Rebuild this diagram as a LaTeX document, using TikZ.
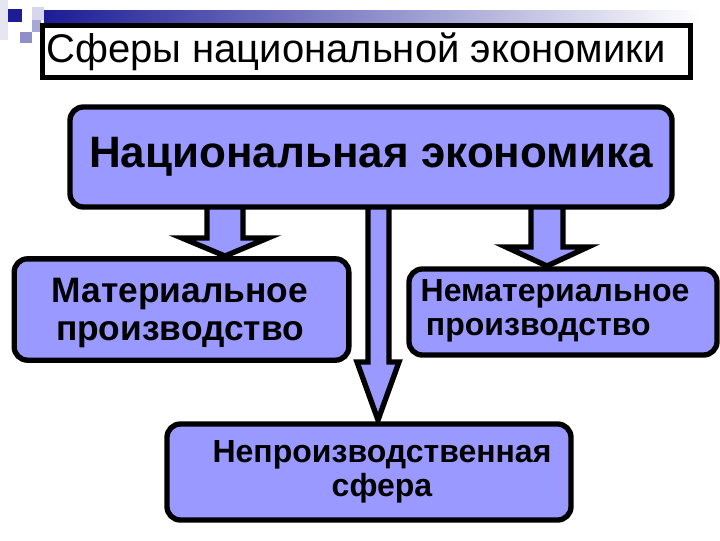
\documentclass[tikz,border=0pt]{standalone}
\usepackage{fontspec}
\setmainfont{Liberation Sans}
\definecolor{peri}{HTML}{9999FF}
\definecolor{navy}{HTML}{1C1C96}
\definecolor{lavA}{HTML}{E6E6F2}
\definecolor{lavB}{HTML}{D6D6EC}
\definecolor{lavC}{HTML}{A8A8D6}
\definecolor{lavD}{HTML}{9090C8}
\begin{document}
\begin{tikzpicture}[x=0.75pt,y=-0.75pt,
  box/.style={draw=black, fill=peri, line width=4pt, rounded corners=10pt, inner sep=0pt, align=center},
  boxtext/.style={font=\bfseries\fontsize{24}{25.5}\selectfont},
  blockarrow/.style={draw=black, fill=peri, line width=4pt, line join=miter},
  titlebox/.style={draw=black, fill=white, line width=4pt, inner sep=0pt}]
\useasboundingbox (0,0) rectangle (720,540);
% template decoration
\fill[lavA] (0,0) rectangle (8,40);
\fill[lavB] (32,7) rectangle (44,20);
\fill[lavC] (32,20) rectangle (41,32);
\fill[lavD] (20,32) rectangle (32,43);
\fill[navy] (8,9) rectangle (22,22);
\shade[left color=navy, right color=white] (44,10) rectangle (700,23);
% title
\node[titlebox, minimum width=486pt, minimum height=39pt] (title) at (366.5,51.5) {};
\node[font=\fontsize{30}{36}\selectfont, inner sep=0pt] (titlet) at (356,52) {Сферы национальной экономики};
% arrows
\draw[blockarrow] (207,200) -- (207,238) -- (182,238) -- (225,256) -- (268,238) -- (243,238) -- (243,200) -- cycle;
\draw[blockarrow] (531,200) -- (531,247) -- (506,247) -- (547,266) -- (588,247) -- (563,247) -- (563,200) -- cycle;
\draw[blockarrow] (368,200) -- (368,362) -- (357,362) -- (378,420) -- (399,362) -- (389,362) -- (389,200) -- cycle;
% nodes
\node[box, minimum width=451.5pt, minimum height=75pt, font=\bfseries\fontsize{33}{36}\selectfont] (nat) at (371,157) {Национальная экономика};
\node[box, minimum width=251pt, minimum height=76pt] (mat) at (181.5,309.5) {};
\node[font=\bfseries\fontsize{26.5}{28.5}\selectfont, align=center, inner sep=0pt] (matt) at (180,313) {Материальное\\производство};
\node[box, minimum width=231pt, minimum height=64.5pt] (nemat) at (563,312) {};
\node[boxtext, align=left, inner sep=0pt] (nematt) at (555,311) {Нематериальное\\\hspace*{4pt}производство};
\node[box, minimum width=303pt, minimum height=72pt] (nepr) at (369,472) {};
\node[boxtext, align=center, inner sep=0pt] (neprt) at (382,472) {Непроизводственная\\сфера};
\end{tikzpicture}
\end{document}
